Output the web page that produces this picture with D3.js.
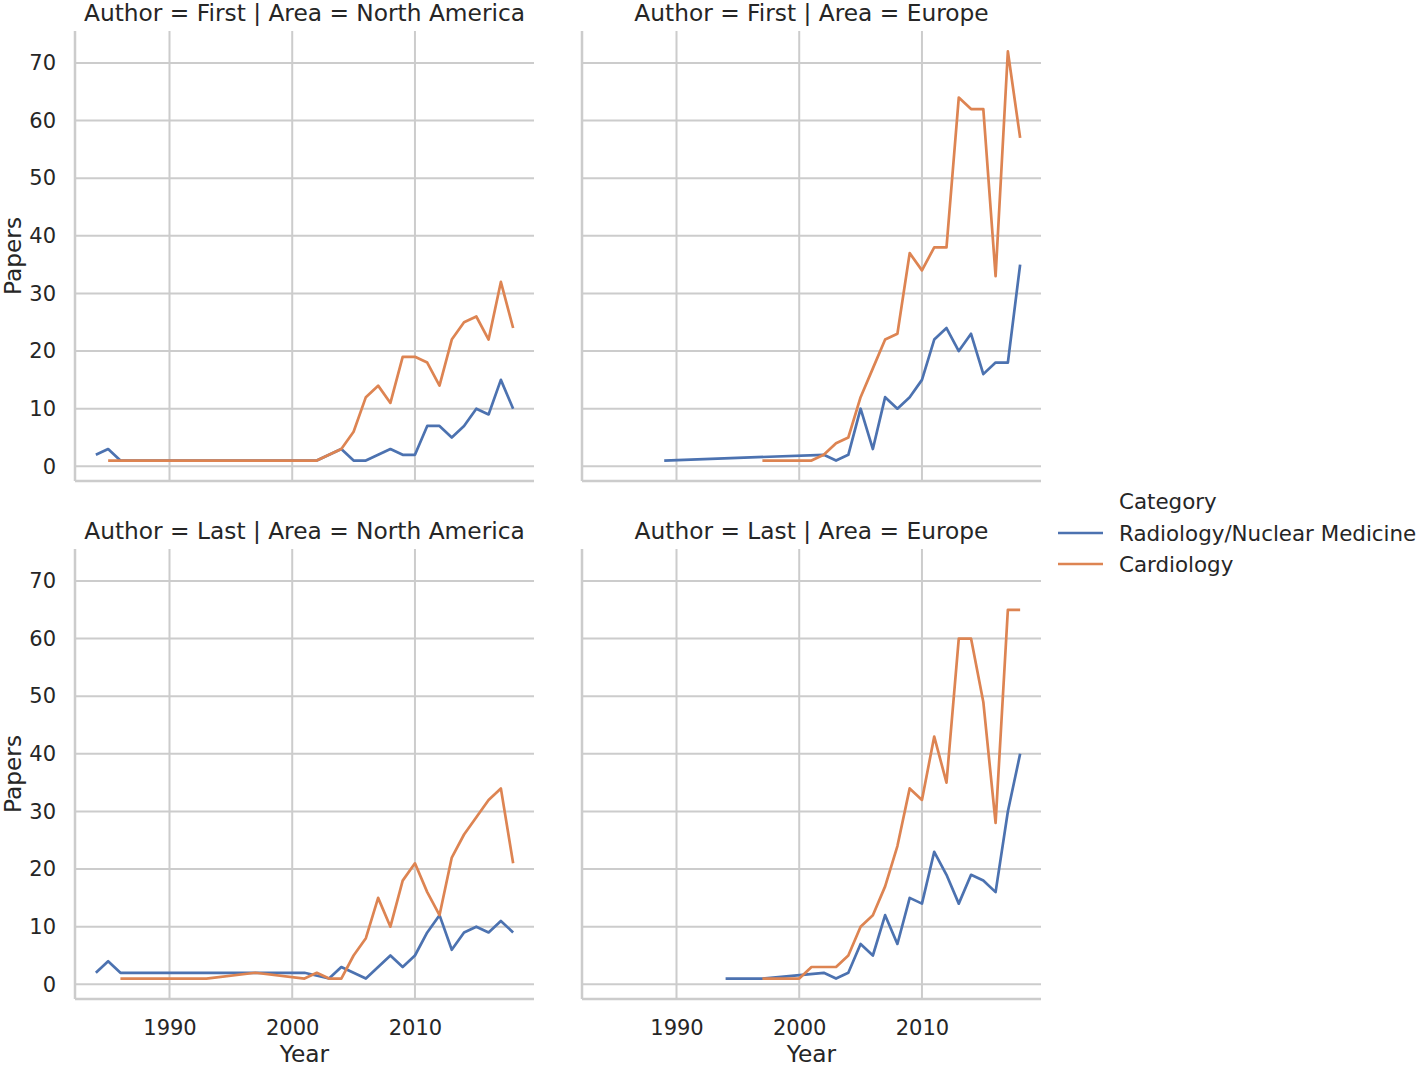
<!DOCTYPE html>
<html>
<head>
<meta charset="utf-8">
<script src="https://cdn.jsdelivr.net/npm/d3@7"></script>
<style>
  html, body { margin: 0; padding: 0; background: #fff; }
  svg { display: block; font-family: "DejaVu Sans", sans-serif; }
</style>
</head>
<body>
<div id="chart"></div>
<script>
// ---------- data ----------
const categories = ["Radiology/Nuclear Medicine", "Cardiology"];
const authors = ["First", "Last"];
const areas = ["North America", "Europe"];
const xTicks = [1990, 2000, 2010];
const yTicks = [0, 10, 20, 30, 40, 50, 60, 70];

// Author = First | Area = North America
const firstNA_radYears = [1984, 1985, 1986, 2002, 2003, 2004, 2005, 2006, 2007, 2008, 2009, 2010, 2011, 2012, 2013, 2014, 2015, 2016, 2017, 2018];
const firstNA_radVals  = [2, 3, 1, 1, 2, 3, 1, 1, 2, 3, 2, 2, 7, 7, 5, 7, 10, 9, 15, 10];
const firstNA_carYears = [1985, 2002, 2003, 2004, 2005, 2006, 2007, 2008, 2009, 2010, 2011, 2012, 2013, 2014, 2015, 2016, 2017, 2018];
const firstNA_carVals  = [1, 1, 2, 3, 6, 12, 14, 11, 19, 19, 18, 14, 22, 25, 26, 22, 32, 24];

// Author = First | Area = Europe
const firstEU_radYears = [1989, 2002, 2003, 2004, 2005, 2006, 2007, 2008, 2009, 2010, 2011, 2012, 2013, 2014, 2015, 2016, 2017, 2018];
const firstEU_radVals  = [1, 2, 1, 2, 10, 3, 12, 10, 12, 15, 22, 24, 20, 23, 16, 18, 18, 35];
const firstEU_carYears = [1997, 2001, 2002, 2003, 2004, 2005, 2006, 2007, 2008, 2009, 2010, 2011, 2012, 2013, 2014, 2015, 2016, 2017, 2018];
const firstEU_carVals  = [1, 1, 2, 4, 5, 12, 17, 22, 23, 37, 34, 38, 38, 64, 62, 62, 33, 72, 57];

// Author = Last | Area = North America
const lastNA_radYears = [1984, 1985, 1986, 2001, 2003, 2004, 2005, 2006, 2007, 2008, 2009, 2010, 2011, 2012, 2013, 2014, 2015, 2016, 2017, 2018];
const lastNA_radVals  = [2, 4, 2, 2, 1, 3, 2, 1, 3, 5, 3, 5, 9, 12, 6, 9, 10, 9, 11, 9];
const lastNA_carYears = [1986, 1993, 1997, 2001, 2002, 2003, 2004, 2005, 2006, 2007, 2008, 2009, 2010, 2011, 2012, 2013, 2014, 2015, 2016, 2017, 2018];
const lastNA_carVals  = [1, 1, 2, 1, 2, 1, 1, 5, 8, 15, 10, 18, 21, 16, 12, 22, 26, 29, 32, 34, 21];

// Author = Last | Area = Europe
const lastEU_radYears = [1994, 1997, 2002, 2003, 2004, 2005, 2006, 2007, 2008, 2009, 2010, 2011, 2012, 2013, 2014, 2015, 2016, 2017, 2018];
const lastEU_radVals  = [1, 1, 2, 1, 2, 7, 5, 12, 7, 15, 14, 23, 19, 14, 19, 18, 16, 30, 40];
const lastEU_carYears = [1997, 2000, 2001, 2003, 2004, 2005, 2006, 2007, 2008, 2009, 2010, 2011, 2012, 2013, 2014, 2015, 2016, 2017, 2018];
const lastEU_carVals  = [1, 1, 3, 3, 5, 10, 12, 17, 24, 34, 32, 43, 35, 60, 60, 49, 28, 65, 65];

const panelData = [
  { author: "First", area: "North America", series: [[firstNA_radYears, firstNA_radVals], [firstNA_carYears, firstNA_carVals]] },
  { author: "First", area: "Europe",        series: [[firstEU_radYears, firstEU_radVals], [firstEU_carYears, firstEU_carVals]] },
  { author: "Last",  area: "North America", series: [[lastNA_radYears, lastNA_radVals], [lastNA_carYears, lastNA_carVals]] },
  { author: "Last",  area: "Europe",        series: [[lastEU_radYears, lastEU_radVals], [lastEU_carYears, lastEU_carVals]] }
];

// ---------- layout ----------
const W = 1418, H = 1066;
const colors = ["#4C72B0", "#DD8452"];
const gridColor = "#cccccc";
const textColor = "#262626";
const tickFont = 21;
const legendFont = 21.4;
const labelFont = 23.3;
const panelW = 459, panelH = 450;
const colX = [75, 582];
const rowY = [31, 549];

const xDomain = [1982.3, 2019.7];
const yDomain = [-2.55, 75.55];

const svg = d3.select("#chart").append("svg")
  .attr("width", W).attr("height", H);

panelData.forEach((p, i) => {
  const r = authors.indexOf(p.author);
  const c = areas.indexOf(p.area);
  const x0 = colX[c], y0 = rowY[r];
  const x = d3.scaleLinear().domain(xDomain).range([0, panelW]);
  const y = d3.scaleLinear().domain(yDomain).range([panelH, 0]);
  const g = svg.append("g").attr("transform", `translate(${x0},${y0})`);

  // grid
  g.append("g").selectAll("line").data(xTicks).join("line")
    .attr("x1", d => x(d)).attr("x2", d => x(d))
    .attr("y1", 0).attr("y2", panelH)
    .attr("stroke", gridColor).attr("stroke-width", 2);
  g.append("g").selectAll("line").data(yTicks).join("line")
    .attr("y1", d => y(d)).attr("y2", d => y(d))
    .attr("x1", 0).attr("x2", panelW)
    .attr("stroke", gridColor).attr("stroke-width", 2);

  // spines
  g.append("line").attr("x1", 0).attr("x2", 0).attr("y1", 0).attr("y2", panelH)
    .attr("stroke", gridColor).attr("stroke-width", 2.5);
  g.append("line").attr("x1", 0).attr("x2", panelW).attr("y1", panelH).attr("y2", panelH)
    .attr("stroke", gridColor).attr("stroke-width", 2.5);

  // y axis labels (left column only)
  if (c === 0) {
    const ya = d3.axisLeft(y).tickValues(yTicks).tickSize(0).tickPadding(19);
    const yg = g.append("g").call(ya);
    yg.select(".domain").remove();
    yg.selectAll("text").attr("font-size", tickFont).attr("fill", textColor)
      .attr("font-family", "DejaVu Sans");
    g.append("text")
      .attr("transform", `translate(${21 - x0},${panelH / 2}) rotate(-90)`)
      .attr("text-anchor", "middle")
      .attr("font-size", labelFont).attr("fill", textColor)
      .text("Papers");
  }
  // x axis labels (bottom row only)
  if (r === 1) {
    const xa = d3.axisBottom(x).tickValues(xTicks).tickFormat(d3.format("d")).tickSize(0).tickPadding(21);
    const xg = g.append("g").attr("transform", `translate(0,${panelH})`).call(xa);
    xg.select(".domain").remove();
    xg.selectAll("text").attr("font-size", tickFont).attr("fill", textColor)
      .attr("font-family", "DejaVu Sans");
    g.append("text")
      .attr("x", panelW / 2).attr("y", 1062 - y0)
      .attr("text-anchor", "middle")
      .attr("font-size", labelFont).attr("fill", textColor)
      .text("Year");
  }

  // title
  g.append("text")
    .attr("x", panelW / 2).attr("y", -10)
    .attr("text-anchor", "middle")
    .attr("font-size", labelFont).attr("fill", textColor)
    .text(`Author = ${p.author} | Area = ${p.area}`);

  // lines
  const line = d3.line().x(d => x(d[0])).y(d => y(d[1]));
  p.series.forEach(([yrs, vals], si) => {
    const pts = yrs.map((yr, k) => [yr, vals[k]]);
    g.append("path").datum(pts)
      .attr("d", line)
      .attr("fill", "none")
      .attr("stroke", colors[si])
      .attr("stroke-width", 2.7)
      .attr("stroke-linejoin", "round")
      .attr("stroke-linecap", "butt");
  });
});

// ---------- legend ----------
const lg = svg.append("g");
lg.append("text").attr("x", 1119).attr("y", 509)
  .attr("font-size", legendFont).attr("fill", textColor).text("Category");
categories.forEach((cat, i) => {
  const cy = 533 + i * 31;
  lg.append("line").attr("x1", 1058).attr("x2", 1103).attr("y1", cy).attr("y2", cy)
    .attr("stroke", colors[i]).attr("stroke-width", 2.7);
  lg.append("text").attr("x", 1119).attr("y", cy + 7.5)
    .attr("font-size", legendFont).attr("fill", textColor).text(cat);
});
</script>
</body>
</html>
